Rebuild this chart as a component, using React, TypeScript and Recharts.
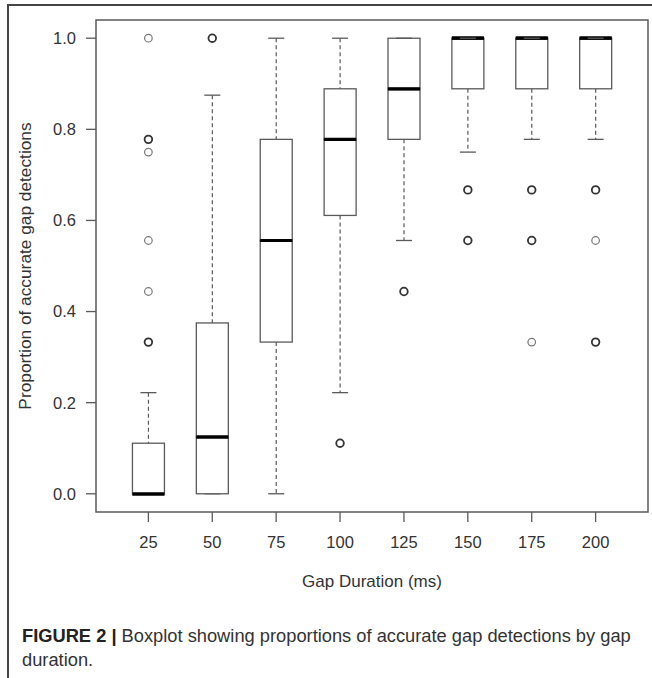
import { Bar, ComposedChart, ReferenceArea, Scatter, XAxis, YAxis } from "recharts";

// gap durations (ms) on the x axis
const durations = [25, 50, 75, 100, 125, 150, 175, 200];

// five-number summaries per duration
const whiskerLow = [0, 0, 0, 0.222, 0.556, 0.75, 0.778, 0.778];
const q1 = [0, 0, 0.333, 0.611, 0.778, 0.889, 0.889, 0.889];
const median = [0, 0.125, 0.556, 0.778, 0.889, 1, 1, 1];
const q3 = [0.111, 0.375, 0.778, 0.889, 1, 1, 1, 1];
const whiskerHigh = [0.222, 0.875, 1, 1, 1, 1, 1, 1];

// outliers (n = overplotted points)
const outlierDuration = [25, 25, 25, 25, 25, 25, 50, 100, 125, 150, 150, 175, 175, 175, 200, 200, 200];
const outlierValue = [1, 0.778, 0.75, 0.556, 0.444, 0.333, 1, 0.111, 0.444, 0.667, 0.556, 0.667, 0.556, 0.333, 0.667, 0.556, 0.333];
const outlierCount = [1, 2, 1, 1, 1, 2, 2, 2, 2, 2, 2, 2, 2, 1, 2, 1, 2];

const yTicks = [0, 0.2, 0.4, 0.6, 0.8, 1];

const boxRows = durations.map((d, i) => ({
  duration: d,
  base: whiskerLow[i],
  lowWhisker: q1[i] - whiskerLow[i],
  lowBox: median[i] - q1[i],
  highBox: q3[i] - median[i],
  highWhisker: whiskerHigh[i] - q3[i],
}));

const outliers = outlierDuration.map((d, i) => ({
  duration: d,
  value: outlierValue[i],
  n: outlierCount[i],
}));

const LINE = "#5a5a5a";
const FONT = "'Liberation Sans', Arial, sans-serif";
const CAP = 8;

const LowWhisker = (p: any) => {
  const cx = p.x + p.width / 2;
  const bottom = p.y + p.height;
  return (
    <g>
      <line x1={cx} x2={cx} y1={p.y} y2={bottom} stroke={LINE} strokeWidth={1.2} strokeDasharray="4 3" />
      <line x1={cx - CAP} x2={cx + CAP} y1={bottom} y2={bottom} stroke={LINE} strokeWidth={1.3} />
    </g>
  );
};

const HighWhisker = (p: any) => {
  const cx = p.x + p.width / 2;
  return (
    <g>
      <line x1={cx} x2={cx} y1={p.y} y2={p.y + p.height} stroke={LINE} strokeWidth={1.2} strokeDasharray="4 3" />
      <line x1={cx - CAP} x2={cx + CAP} y1={p.y} y2={p.y} stroke={LINE} strokeWidth={1.3} />
    </g>
  );
};

const LowBox = (p: any) => (
  <g>
    <rect x={p.x} y={p.y} width={p.width} height={p.height} fill="#fff" stroke={LINE} strokeWidth={1.3} />
    <line x1={p.x} x2={p.x + p.width} y1={p.y} y2={p.y} stroke="#000" strokeWidth={3.2} />
  </g>
);

const HighBox = (p: any) => (
  <g>
    <rect x={p.x} y={p.y} width={p.width} height={p.height} fill="#fff" stroke={LINE} strokeWidth={1.3} />
    <line x1={p.x} x2={p.x + p.width} y1={p.y + p.height} y2={p.y + p.height} stroke="#000" strokeWidth={3.2} />
  </g>
);

const Outlier = (p: any) => (
  <circle
    cx={p.cx}
    cy={p.cy}
    r={3.8}
    fill="none"
    stroke={p.payload.n > 1 ? "#333" : "#777"}
    strokeWidth={p.payload.n > 1 ? 1.8 : 1.2}
  />
);

const xTitle = (props: any) => {
  const vb = props.viewBox;
  return (
    <text x={vb.x + vb.width / 2} y={vb.y + 75} textAnchor="middle" fontSize={17} fontFamily={FONT} fill="#333">
      Gap Duration (ms)
    </text>
  );
};

const yTitle = (props: any) => {
  const vb = props.viewBox;
  const cx = vb.x + 31;
  const cy = vb.y + vb.height / 2;
  return (
    <text x={cx} y={cy} transform={`rotate(-90, ${cx}, ${cy})`} textAnchor="middle" fontSize={17.3} fontFamily={FONT} fill="#333">
      Proportion of accurate gap detections
    </text>
  );
};

export default function App() {
  return (
    <div style={{ position: "absolute", left: 0, top: 0, width: 652, height: 678, background: "#fff" }}>
      <div style={{ position: "absolute", left: 7, top: 4, width: 645, height: 1.5, background: "#444" }} />
      <div style={{ position: "absolute", left: 7, top: 4, width: 1.5, height: 674, background: "#444" }} />
      <div style={{ position: "absolute", left: 0, top: 0 }}>
        <ComposedChart width={652} height={600} data={boxRows} margin={{ top: 20, right: 4, left: 0, bottom: 0 }}>
          <XAxis
            dataKey="duration"
            type="number"
            domain={[4.5, 220.5]}
            ticks={durations}
            interval={0}
            height={88}
            axisLine={false}
            tickSize={10}
            tickMargin={14}
            tickLine={{ stroke: LINE, strokeWidth: 1.3 }}
            tick={{ fill: "#333", fontSize: 16.5, fontFamily: FONT }}
            label={xTitle}
          />
          <YAxis
            type="number"
            domain={[-0.04, 1.04]}
            ticks={yTicks}
            interval={0}
            width={96}
            axisLine={false}
            tickSize={10}
            tickMargin={10}
            tickLine={{ stroke: LINE, strokeWidth: 1.3 }}
            tickFormatter={(v: number) => v.toFixed(1)}
            tick={{ fill: "#333", fontSize: 16.5, fontFamily: FONT }}
            label={yTitle}
          />
          <ReferenceArea x1={4.5} x2={220.5} y1={-0.04} y2={1.04} fill="none" stroke={LINE} strokeWidth={1.5} />
          <Bar dataKey="base" stackId="b" barSize={32} fill="transparent" isAnimationActive={false} />
          <Bar dataKey="lowWhisker" stackId="b" barSize={32} shape={LowWhisker} isAnimationActive={false} />
          <Bar dataKey="lowBox" stackId="b" barSize={32} shape={LowBox} isAnimationActive={false} />
          <Bar dataKey="highBox" stackId="b" barSize={32} shape={HighBox} isAnimationActive={false} />
          <Bar dataKey="highWhisker" stackId="b" barSize={32} shape={HighWhisker} isAnimationActive={false} />
          <Scatter data={outliers} dataKey="value" shape={Outlier} isAnimationActive={false} />
        </ComposedChart>
      </div>
      <div
        style={{
          position: "absolute",
          left: 22,
          top: 624,
          fontFamily: FONT,
          fontSize: 18.3,
          lineHeight: "23.5px",
          color: "#333",
          whiteSpace: "nowrap",
        }}
      >
        <b style={{ color: "#222" }}>FIGURE 2 |</b> Boxplot showing proportions of accurate gap detections by gap
        <br />
        duration.
      </div>
    </div>
  );
}
